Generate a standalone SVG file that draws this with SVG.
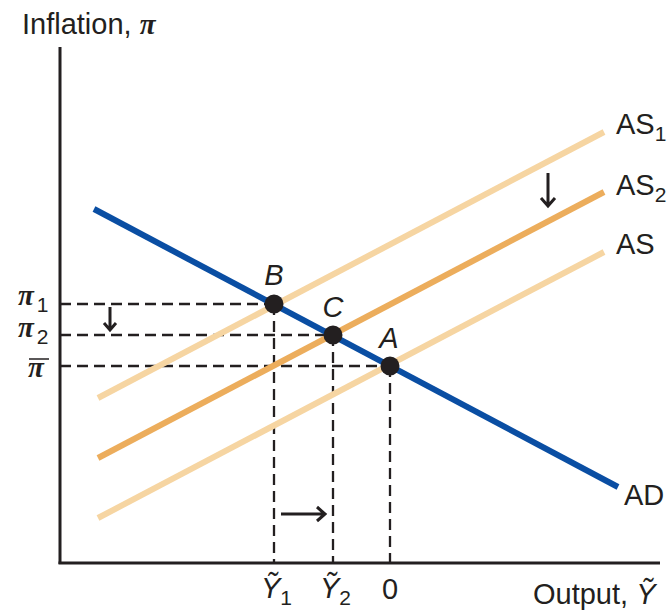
<svg xmlns="http://www.w3.org/2000/svg" width="668" height="610" viewBox="0 0 668 610">
<style>
.lbl{font-family:"Liberation Sans",Arial,sans-serif;font-size:29px;fill:#231f20}
.it{font-style:italic}
.sub{font-size:21px}
.pi{font-family:"Liberation Serif","Times New Roman",serif;font-style:italic;font-weight:bold;font-size:29px;fill:#231f20}
.axis{stroke:#231f20;stroke-width:3;fill:none}
.dash{stroke:#231f20;stroke-width:2.3;stroke-dasharray:11 6;fill:none}
.arr{stroke:#231f20;stroke-width:3;fill:none;stroke-linecap:butt}
.dot{fill:#231f20}
</style>
<rect width="668" height="610" fill="#fff"/>
<g id="axes">
<line class="axis" x1="60" y1="47" x2="60" y2="564"/>
<line class="axis" x1="58.5" y1="563" x2="660" y2="563"/>
<text class="lbl" x="22" y="34">Inflation, <tspan class="pi">π</tspan></text>
<text class="lbl" x="533" y="604">Output, <tspan class="it">Ỹ</tspan></text>
</g>
<g id="connectors">
<line class="dash" x1="60" y1="304" x2="274" y2="304"/>
<line class="dash" x1="60" y1="335" x2="333" y2="335"/>
<line class="dash" x1="60" y1="366" x2="390" y2="366"/>
<line class="dash" x1="274" y1="304" x2="274" y2="563"/>
<line class="dash" x1="333" y1="335" x2="333" y2="563"/>
<line class="dash" x1="390" y1="366" x2="390" y2="563"/>
<path class="arr" d="M548 173V206M541 198L548 206L555 198"/>
<path class="arr" d="M110 307V330M104 323L110 330L116 323"/>
<path class="arr" d="M281 514H325M317 507L325 514L317 521"/>
</g>
<g id="AS1"><line x1="98" y1="398" x2="604" y2="132" stroke="#f6d5a2" stroke-width="6"/><text class="lbl" x="616" y="134">AS<tspan class="sub" dy="7">1</tspan></text></g>
<g id="AS2"><line x1="98" y1="458" x2="604" y2="192" stroke="#ecad5c" stroke-width="6"/><text class="lbl" x="616" y="195">AS<tspan class="sub" dy="7">2</tspan></text></g>
<g id="AS"><line x1="98" y1="518" x2="604" y2="252" stroke="#f6d5a2" stroke-width="6"/><text class="lbl" x="616" y="254">AS</text></g>
<g id="AD"><line x1="94" y1="209" x2="618" y2="487" stroke="#0a4ea3" stroke-width="6"/><text class="lbl" x="624" y="505">AD</text></g>
<g id="B"><circle class="dot" cx="274" cy="304" r="9.5"/><text class="lbl it" x="274" y="285" text-anchor="middle">B</text></g>
<g id="C"><circle class="dot" cx="333" cy="335" r="9.5"/><text class="lbl it" x="333" y="317" text-anchor="middle">C</text></g>
<g id="A"><circle class="dot" cx="390" cy="366" r="9.5"/><text class="lbl it" x="389" y="348" text-anchor="middle">A</text></g>
<g id="ylabels">
<text class="pi" x="18" y="305">π<tspan class="lbl sub" dx="3" dy="7" font-style="normal" font-weight="normal" font-size="23">1</tspan></text>
<text class="pi" x="18" y="337">π<tspan class="lbl sub" dx="3" dy="7" font-style="normal" font-weight="normal" font-size="23">2</tspan></text>
<text class="pi" x="28" y="377">π</text>
<line x1="29" y1="359" x2="49" y2="359" stroke="#231f20" stroke-width="1.5"/>
</g>
<g id="xlabels">
<text class="lbl it" x="261" y="598">Ỹ<tspan class="sub" font-style="normal" dy="7">1</tspan></text>
<text class="lbl it" x="320" y="598">Ỹ<tspan class="sub" font-style="normal" dy="7">2</tspan></text>
<text class="lbl" x="390" y="599" text-anchor="middle" font-size="27">0</text>
</g>
</svg>
